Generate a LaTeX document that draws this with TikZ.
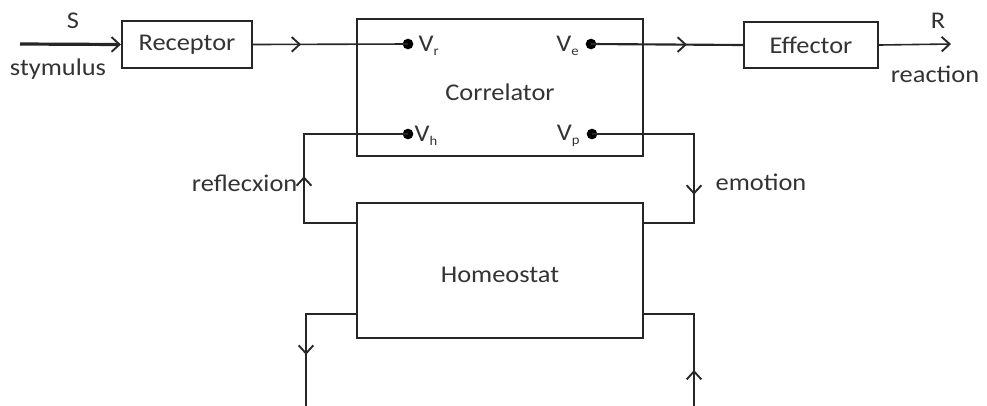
\documentclass[tikz,border=0pt]{standalone}
\usepackage{fontspec}
\setmainfont{Carlito}[FakeStretch=1.1]
\usetikzlibrary{arrows.meta,decorations.markings}
\begin{document}
\begin{tikzpicture}[x=0.75pt,y=-0.75pt,
  every node/.style={font=\fontsize{18}{21}\selectfont, text=black!80},
  box/.style={draw=black!85, line width=1.6pt, inner sep=0pt},
  conn/.style={draw=black!85, line width=1.2pt},
  dot/.style={circle, fill=black, inner sep=0pt, minimum size=8pt},
  chev/.style={-{Straight Barb[length=6pt,width=11pt,line width=1.4pt]}},
  midarrow/.style={postaction={decorate},decoration={markings,
     mark=at position #1 with {\arrow{Straight Barb[length=6pt,width=11pt,line width=1.4pt]}}}}
]
\useasboundingbox (0,0) rectangle (987,405);

% boxes
\node[box, minimum width=97.5pt, minimum height=35.25pt] (rec) at (187,44.5) {Receptor};
\node[box, minimum width=214.5pt, minimum height=102.75pt] (cor) at (500,87.5) {};
\node (corlab) at (500,92) {Correlator};
\node[box, minimum width=100.5pt, minimum height=34.5pt] (eff) at (811,45) {Effector};
\node[box, minimum width=214.5pt, minimum height=101.25pt] (hom) at (500,270.5) {};
\node (homlab) at (500,275) {Homeostat};

% dots
\node[dot] (Vr) at (408,44) {};
\node[dot] (Ve) at (591,44) {};
\node[dot] (Vh) at (408,134) {};
\node[dot] (Vp) at (592,134) {};
\node[anchor=west] (Vrl) at (414,46) {V\textsubscript{\fontsize{10}{12}\selectfont r}};
\node[anchor=east] (Vel) at (584,46) {V\textsubscript{\fontsize{10}{12}\selectfont e}};
\node[anchor=west] (Vhl) at (410,136) {V\textsubscript{\fontsize{10}{12}\selectfont h}};
\node[anchor=east] (Vpl) at (585,136) {V\textsubscript{\fontsize{10}{12}\selectfont p}};

% text labels
\node (S) at (73,21) {S};
\node (stym) at (58,69) {stymulus};
\node (R) at (938,21) {R};
\node (reac) at (935,74) {reaction};
\node[anchor=east] (refl) at (302,183) {reflecxion};
\node[anchor=west] (emo) at (711,182) {emotion};

% coordinates
\coordinate (inS) at (20,44);
\coordinate (outR) at (951,44);
\coordinate (reflA) at (304,223);
\coordinate (emoA) at (694,223);
\coordinate (llA) at (306,314);
\coordinate (llB) at (306,406);
\coordinate (lrA) at (694,314);
\coordinate (lrB) at (694,406);

% connectors
\draw[conn, line width=2.4pt, chev] (inS) -- (rec.west);
\draw[conn, midarrow=36pt] (rec.east) -- (Vr.center);
\draw[conn, line width=1.6pt, midarrow=72pt] (Ve.center) -- (eff.west);
\draw[conn, chev] (eff.east) -- (outR);
\draw[conn, midarrow=74pt] (reflA -| hom.west) -- (reflA) |- (Vh.center);
\draw[conn, midarrow=122pt] (Vp.center) -| (emoA) -- (emoA -| hom.east);
\draw[conn, midarrow=68pt] (llA -| hom.west) -- (llA) -- (llB);
\draw[conn, midarrow=27pt] (lrB) -- (lrA) -- (lrA -| hom.east);
\end{tikzpicture}
\end{document}
